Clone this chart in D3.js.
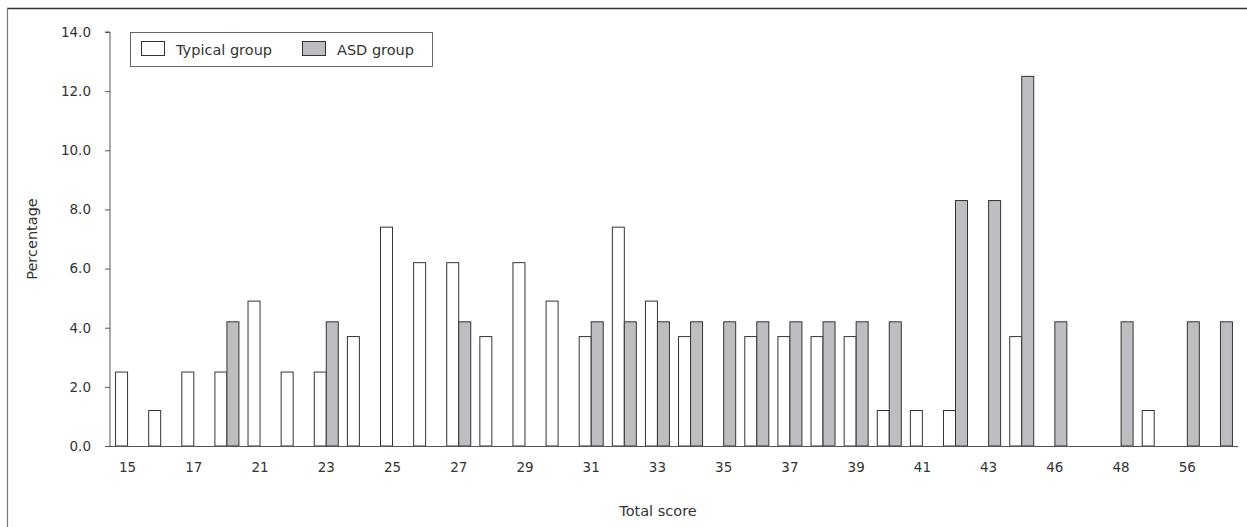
<!DOCTYPE html>
<html><head><meta charset="utf-8">
<script src="https://cdn.jsdelivr.net/npm/d3@7"></script>
<style>
html,body{margin:0;padding:0;background:#fff;}
svg{display:block;font-family:"DejaVu Sans",sans-serif;}
</style></head>
<body>
<svg id="chart" width="1247" height="527"></svg>
<script>
const categories = ["15","16","17","19","21","22","23","24","25","26","27","28","29","30","31","32","33","34","35","36","37","38","39","40","41","42","43","44","46","47","48","49","56","57"];
const tickLabels = ["15","17","21","23","25","27","29","31","33","35","37","39","41","43","46","48","56"];
const typicalValues = [2.5,1.2,2.5,2.5,4.9,2.5,2.5,3.7,7.4,6.2,6.2,3.7,6.2,4.9,3.7,7.4,4.9,3.7,0,3.7,3.7,3.7,3.7,1.2,1.2,1.2,0,3.7,0,0,0,1.2,0,0];
const asdValues     = [0,0,0,4.2,0,0,4.2,0,0,0,4.2,0,0,0,4.2,4.2,4.2,4.2,4.2,4.2,4.2,4.2,4.2,4.2,0,8.3,8.3,12.5,4.2,0,4.2,0,4.2,4.2];
const yTicks = [0,2,4,6,8,10,12,14];
const seriesNames = ["Typical group","ASD group"];
const seriesColors = ["#ffffff","#bdbec1"];

const svg = d3.select("#chart");
// outer frame
svg.append("line").attr("x1",7).attr("x2",1247).attr("y1",8.5).attr("y2",8.5).attr("stroke","#333").attr("stroke-width",1.5);
svg.append("line").attr("x1",7.5).attr("x2",7.5).attr("y1",8).attr("y2",527).attr("stroke","#777").attr("stroke-width",1.2);

const x0 = 110, x1 = 1238, yTop = 32, yBot = 446;
const x = d3.scaleBand().domain(categories).range([x0+1, x1-1]).padding(0);
const y = d3.scaleLinear().domain([0,14]).range([yBot, yTop]);
const barW = 12;

// y axis
const yAxis = d3.axisLeft(y).tickValues(yTicks).tickFormat(d3.format(".1f")).tickSize(5).tickPadding(14);
const gy = svg.append("g").attr("transform",`translate(${x0},0)`).call(yAxis);
gy.select(".domain").attr("stroke","#555").attr("d",`M-5,${yTop}H0V${yBot}`);
gy.selectAll(".tick line").attr("stroke","#555");
gy.selectAll(".tick text").attr("fill","#333").attr("font-size",13.5).attr("font-family","DejaVu Sans");

// bars
const g = svg.append("g");
categories.forEach((c,i)=>{
  const cx = x(c) + x.bandwidth()/2;
  if (typicalValues[i] > 0) {
    g.append("rect").attr("x",cx-barW).attr("y",y(typicalValues[i])).attr("width",barW).attr("height",y(0)-y(typicalValues[i]))
      .attr("fill",seriesColors[0]).attr("stroke","#333").attr("stroke-width",1);
  }
  if (asdValues[i] > 0) {
    g.append("rect").attr("x",cx).attr("y",y(asdValues[i])).attr("width",barW).attr("height",y(0)-y(asdValues[i]))
      .attr("fill",seriesColors[1]).attr("stroke","#333").attr("stroke-width",1);
  }
});

// x axis
const xAxis = d3.axisBottom(x).tickValues(categories.filter((c,i)=>i%2===0)).tickFormat((d)=>tickLabels[categories.indexOf(d)/2]).tickSize(0).tickPadding(16);
const gx = svg.append("g").attr("transform",`translate(0,${yBot})`).call(xAxis);
gx.select(".domain").attr("stroke","#555").attr("d",`M${x0},0.5H${x1}`);
gx.selectAll(".tick text").attr("fill","#333").attr("font-size",13.5).attr("font-family","DejaVu Sans");

// axis titles
svg.append("text").attr("x",658).attr("y",516).attr("text-anchor","middle").attr("font-size",14.5).attr("fill","#333").text("Total score");
svg.append("text").attr("transform","translate(37,239) rotate(-90)").attr("text-anchor","middle").attr("font-size",14.5).attr("fill","#333").text("Percentage");

// legend
const lg = svg.append("g");
lg.append("rect").attr("x",130.5).attr("y",32.5).attr("width",302).attr("height",34).attr("fill","#fff").attr("stroke","#666").attr("stroke-width",1);
const legendX = [141, 302];
seriesNames.forEach((n,i)=>{
  lg.append("rect").attr("x",legendX[i]+0.5).attr("y",41.5).attr("width",23).attr("height",14).attr("fill",seriesColors[i]).attr("stroke","#333").attr("stroke-width",1);
  lg.append("text").attr("x",legendX[i]+35).attr("y",54.5).attr("font-size",14.5).attr("fill","#333").text(n);
});
</script>
</body></html>
